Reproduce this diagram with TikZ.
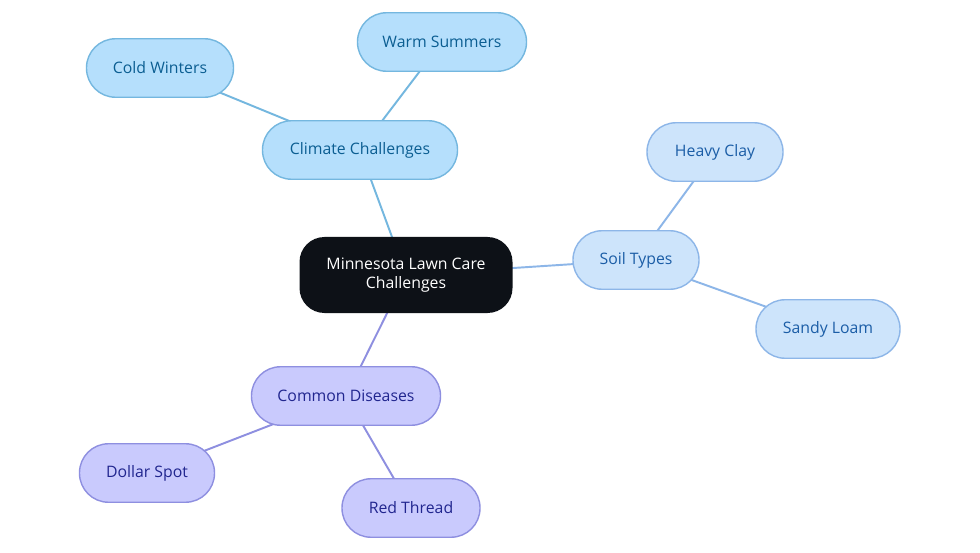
\documentclass[tikz,border=0pt]{standalone}
\usepackage{fontspec}
\setmainfont{Open Sans}
\usetikzlibrary{backgrounds}
\definecolor{rootfill}{HTML}{0D1117}
\definecolor{climfill}{HTML}{B5DFFC}
\definecolor{climline}{HTML}{74B7DF}
\definecolor{climtext}{HTML}{0B5E92}
\definecolor{soilfill}{HTML}{CDE4FB}
\definecolor{soilline}{HTML}{8DB6E8}
\definecolor{soiltext}{HTML}{1B5DA6}
\definecolor{disfill}{HTML}{C9CAFD}
\definecolor{disline}{HTML}{8E8FE0}
\definecolor{distext}{HTML}{21268F}
\begin{document}
\begin{tikzpicture}[every node/.style={font=\fontsize{9}{11}\selectfont},
  leaf/.style={draw, line width=0.8pt, rounded corners=0.58cm, minimum height=1.17cm, inner sep=2pt},
  clim/.style={leaf, fill=climfill, draw=climline, text=climtext},
  soil/.style={leaf, fill=soilfill, draw=soilline, text=soiltext},
  dis/.style={leaf, fill=disfill, draw=disline, text=distext},
  link/.style={line width=1.1pt}]
\useasboundingbox (0,0) rectangle (19.6,-11.06);
% root
\node[fill=rootfill, text=white, rounded corners=0.5cm, minimum width=4.26cm, minimum height=1.52cm, align=center] (root) at (8.12,-5.50) {Minnesota Lawn Care\\Challenges};
% climate branch
\node[clim, minimum width=3.90cm] (climate) at (7.20,-3.00) {Climate Challenges};
\node[clim, minimum width=3.38cm] (warm) at (8.84,-0.84) {Warm Summers};
\node[clim, minimum width=2.94cm] (cold) at (3.20,-1.36) {Cold Winters};
% soil branch
\node[soil, minimum width=2.52cm] (soiltypes) at (12.72,-5.20) {Soil Types};
\node[soil, minimum width=2.72cm] (clay) at (14.30,-3.04) {Heavy Clay};
\node[soil, minimum width=2.88cm] (loam) at (16.56,-6.58) {Sandy Loam};
% disease branch
\node[dis, minimum width=3.78cm] (diseases) at (6.92,-7.92) {Common Diseases};
\node[dis, minimum width=2.70cm] (dollar) at (2.94,-9.46) {Dollar Spot};
\node[dis, minimum width=2.76cm] (thread) at (8.22,-10.16) {Red Thread};
% links, under the nodes
\begin{scope}[on background layer]
\fill[white] (0,0) rectangle (19.6,-11.06);
\draw[link, climline] (root.center) -- (climate.center);
\draw[link, climline] (climate.center) -- (warm.center);
\draw[link, climline] (climate.center) -- (cold.center);
\draw[link, soilline] (root.center) -- (soiltypes.center);
\draw[link, soilline] (soiltypes.center) -- (clay.center);
\draw[link, soilline] (soiltypes.center) -- (loam.center);
\draw[link, disline] (root.center) -- (diseases.center);
\draw[link, disline] (diseases.center) -- (dollar.center);
\draw[link, disline] (diseases.center) -- (thread.center);
\end{scope}
\end{tikzpicture}
\end{document}
